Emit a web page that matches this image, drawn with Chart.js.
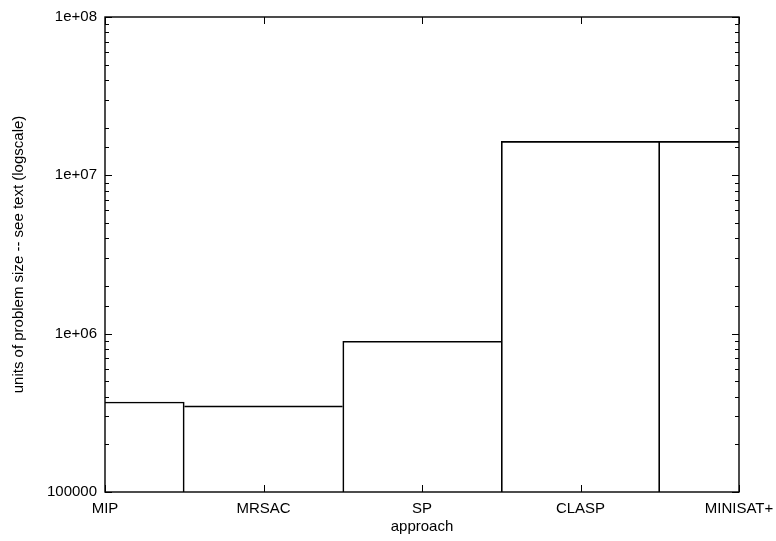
<!DOCTYPE html>
<html>
<head>
<meta charset="utf-8">
<script src="https://cdn.jsdelivr.net/npm/chart.js@4/dist/chart.umd.min.js"></script>
<style>
  html, body { margin: 0; padding: 0; background: #fff; }
  canvas { display: block; }
</style>
</head>
<body>
<canvas id="myChart" width="776" height="541"></canvas>
<script>
// data
const categories = ['MIP', 'MRSAC', 'SP', 'CLASP', 'MINISAT+'];
const values = [370000, 350000, 895000, 16400000, 16400000];
const yTicks = [100000, 1000000, 10000000, 100000000];
const yTickLabels = ['100000', '1e+06', '1e+07', '1e+08'];

const FONT = { family: 'Liberation Sans, Arial, Helvetica, sans-serif', size: 15 };

// gnuplot style frame with inward ticks (and mirrored ticks)
const framePlugin = {
  id: 'frame',
  afterDatasetsDraw(chart) {
    const ctx = chart.ctx, a = chart.chartArea;
    const x = chart.scales.x, y = chart.scales.y;
    ctx.save();
    ctx.strokeStyle = '#000';
    ctx.lineWidth = 1;
    ctx.beginPath();
    y.ticks.forEach(t => {
      const p = Math.round(y.getPixelForValue(t.value)) + 0.5;
      const lg = Math.log10(t.value);
      const len = Math.abs(lg - Math.round(lg)) < 1e-9 ? 7 : 4;
      ctx.moveTo(a.left, p); ctx.lineTo(a.left + len, p);
      ctx.moveTo(a.right, p); ctx.lineTo(a.right - len, p);
    });
    categories.forEach((c, i) => {
      const p = Math.round(x.getPixelForValue(i)) + 0.5;
      ctx.moveTo(p, a.bottom); ctx.lineTo(p, a.bottom - 7);
      ctx.moveTo(p, a.top); ctx.lineTo(p, a.top + 7);
    });
    ctx.stroke();
    ctx.lineWidth = 1.4;
    ctx.strokeRect(a.left, a.top, a.right - a.left, a.bottom - a.top);
    ctx.restore();
  }
};

const ctx = document.getElementById('myChart').getContext('2d');
const chart = new Chart(ctx, {
  type: 'bar',
  data: {
    labels: categories,
    datasets: [{
      data: values,
      backgroundColor: 'rgba(0,0,0,0)',
      borderColor: '#000',
      // only one line where two boxes touch: the taller box draws it
      borderWidth: c => {
        const i = c.dataIndex, n = values.length;
        const left = (i === 0 || values[i - 1] < values[i]) ? 1 : 0;
        const right = (i === n - 1 || values[i + 1] <= values[i]) ? 1 : 0;
        return { top: 1, right: right, left: left, bottom: 0 };
      },
      categoryPercentage: 1,
      barPercentage: 1,
      clip: 0
    }]
  },
  options: {
    responsive: false,
    animation: false,
    layout: { padding: { top: 16, right: 37, bottom: 0, left: 0 } },
    plugins: { legend: { display: false }, tooltip: { enabled: false } },
    scales: {
      x: {
        type: 'category',
        offset: false,
        grid: { display: false, drawTicks: false, offset: false },
        border: { display: false },
        ticks: { color: '#000', font: FONT, padding: 8, maxRotation: 0, autoSkip: false },
        title: { display: true, text: 'approach', color: '#000', font: FONT, padding: { top: 0, bottom: 5 } },
        afterFit: s => { s.height = 49; s.paddingLeft = 0; s.paddingRight = 0; }
      },
      y: {
        type: 'logarithmic',
        min: 100000,
        max: 100000000,
        grid: { display: false, drawTicks: false },
        border: { display: false },
        ticks: {
          color: '#000', font: FONT, padding: 8, autoSkip: false,
          callback: v => {
            const k = yTicks.findIndex(t => Math.abs(t - v) < 1e-6 * t);
            return k < 0 ? '' : yTickLabels[k];
          }
        },
        title: { display: true, text: 'units of problem size -- see text (logscale)', color: '#000', font: FONT, padding: { top: 10, bottom: 0 } },
        afterFit: s => { s.width = 105; }
      }
    }
  },
  plugins: [framePlugin]
});
</script>
</body>
</html>
